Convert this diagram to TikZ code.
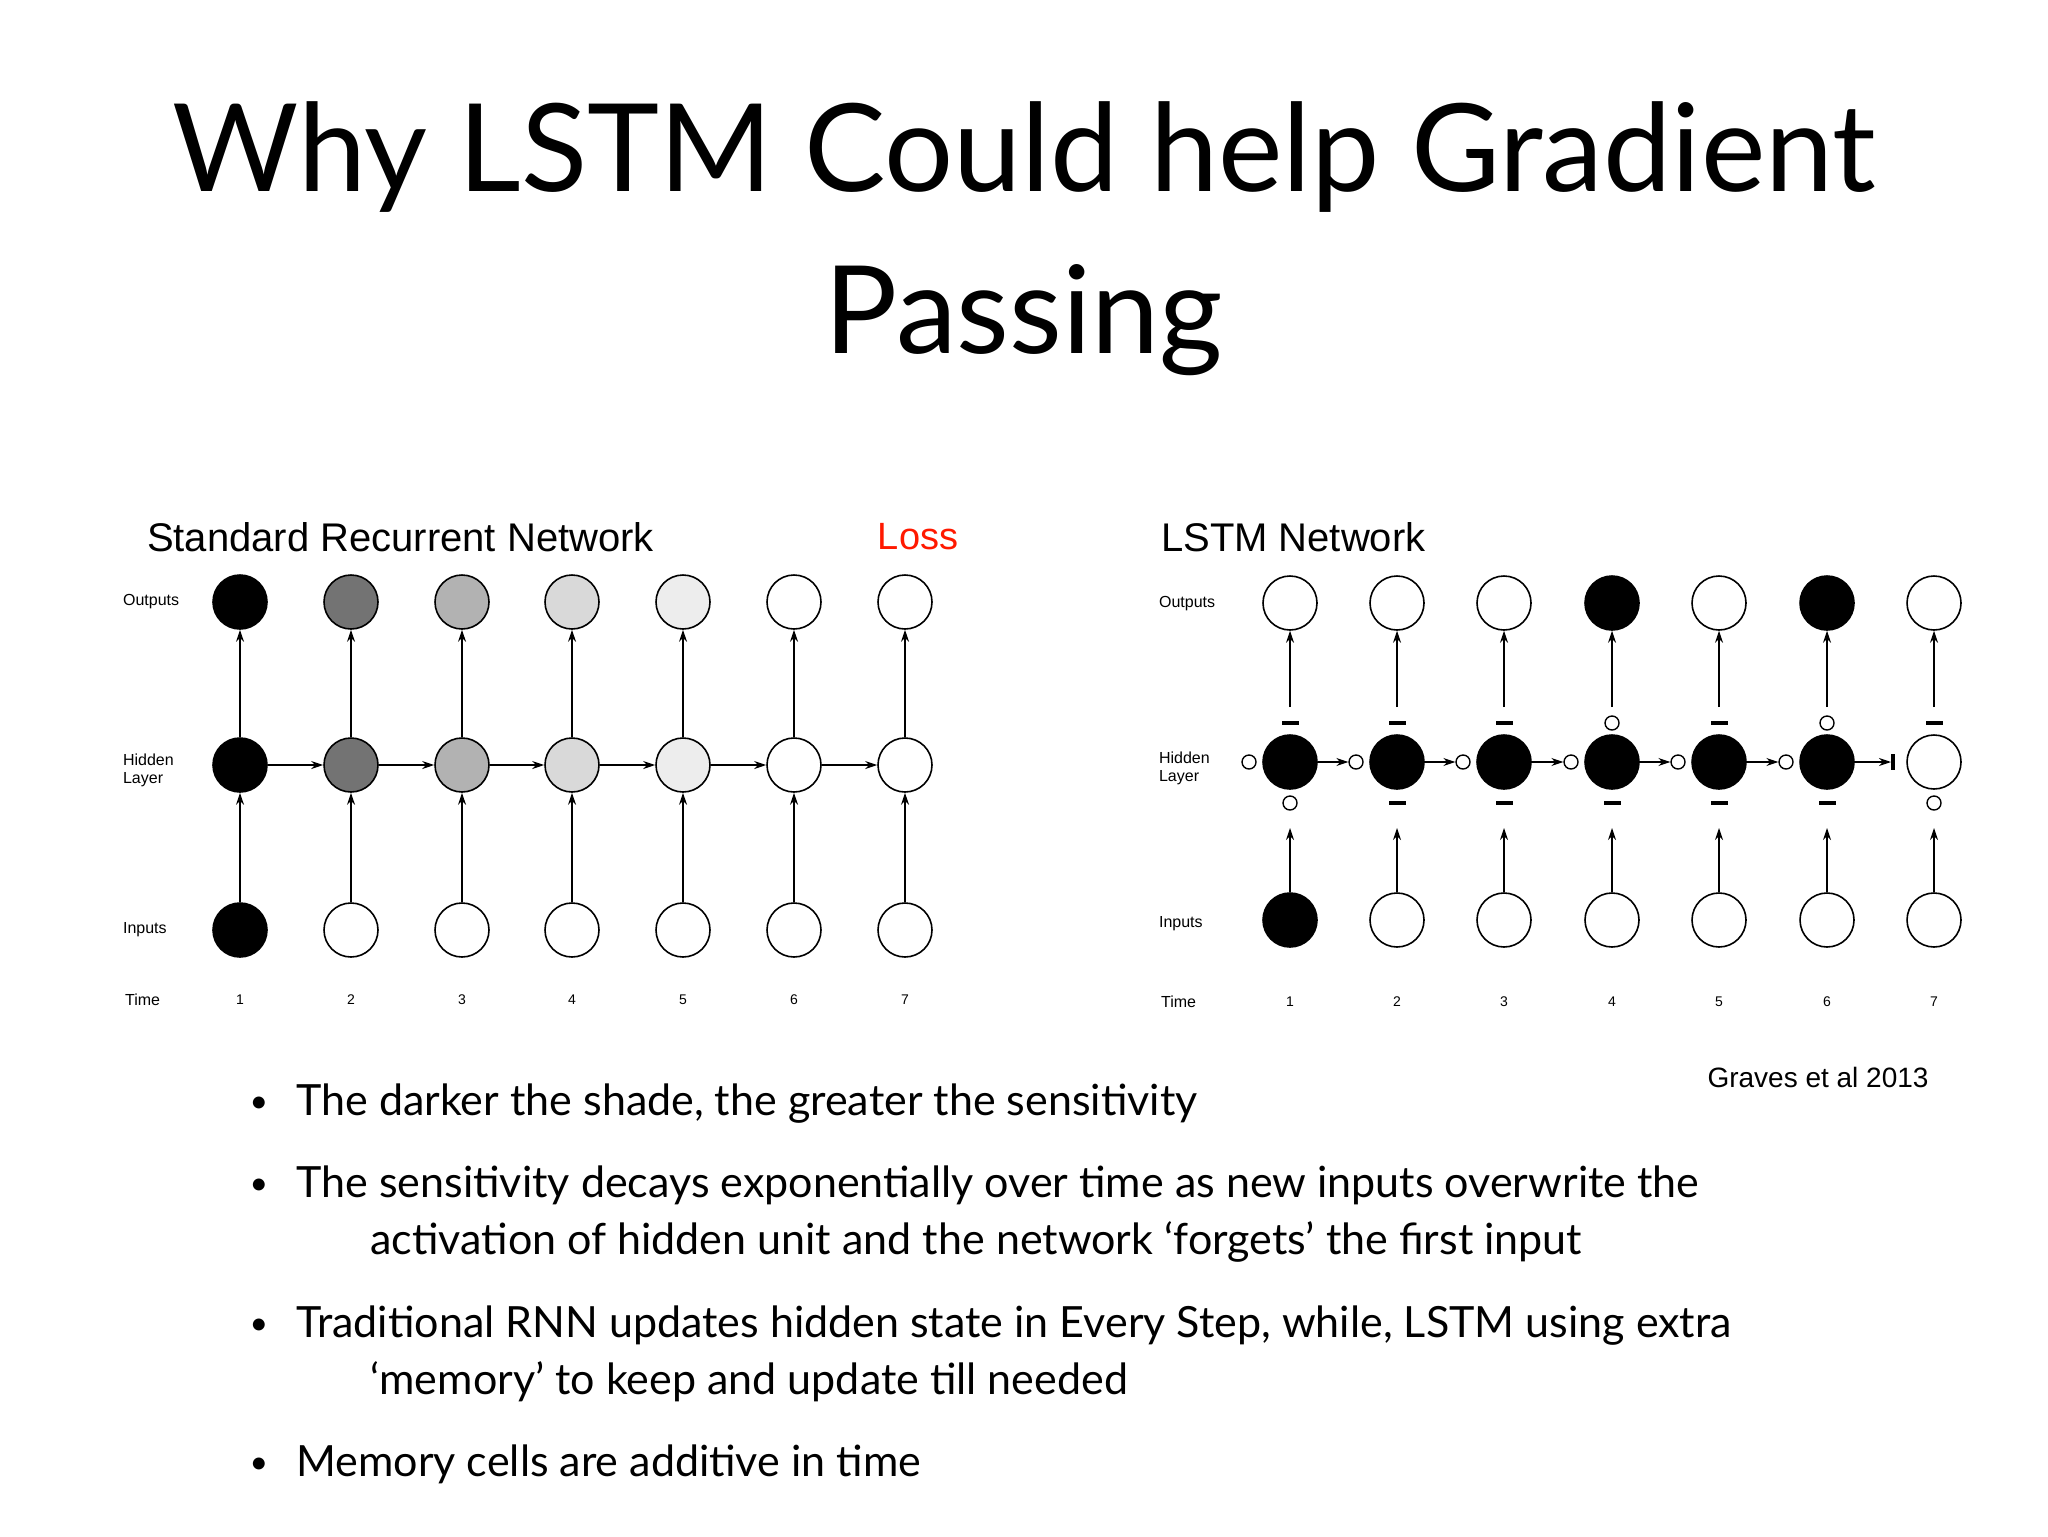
\documentclass[tikz,border=0pt]{standalone}
\usepackage{fontspec}
\setmainfont{Lato}
\newfontfamily\hel{Liberation Sans}
\usetikzlibrary{arrows.meta,calc}
\begin{document}
\begin{tikzpicture}[x=0.5pt,y=-0.5pt,
  unit/.style={circle,draw=black,line width=0.8pt,minimum size=27pt,inner sep=0pt},
  gatec/.style={circle,draw=black,line width=0.7pt,minimum size=7pt,inner sep=0pt},
  gated/.style={draw=none,fill=black,minimum width=8.5pt,minimum height=1.6pt,inner sep=0pt},
  gatev/.style={draw=none,fill=black,minimum width=1.6pt,minimum height=8pt,inner sep=0pt},
  con/.style={-{Stealth[length=6pt,width=4pt]},line width=0.6pt},
  lab/.style={font=\hel\fontsize{8}{9}\selectfont,anchor=west,align=left},
  tlab/.style={font=\hel\fontsize{7}{8}\selectfont},
  bul/.style={font=\fontsize{21.5}{25}\selectfont,anchor=base west,inner sep=0pt}]
\useasboundingbox (0,0) rectangle (2048,1536);
\clip (0,0) rectangle (2048,1536);
\fill[white] (0,0) rectangle (2048,1536);
% title
\node[font=\fontsize{61}{72}\selectfont] (t1) at (1024,157) {Why LSTM Could help Gradient};
\node[font=\fontsize{61}{72}\selectfont] (t2) at (1024,320) {Passing};
% left diagram
\node[font=\hel\fontsize{20}{24}\selectfont,anchor=west] (lt) at (140,537) {Standard Recurrent Network};
\node[font=\hel\fontsize{19}{22}\selectfont,text=red!80!orange] (loss) at (918,537) {Loss};
\node[lab] (lo) at (116,602) {Outputs};
\node[lab] (lh) at (116,770) {Hidden\\Layer};
\node[lab] (li) at (116,930) {Inputs};
\node[lab] (ltm) at (118,1000) {Time};
\foreach \i/\x/\s in {1/240/100,2/351/55,3/462/30,4/572/15,5/683/7,6/794/0,7/905/0}{
  \node[unit,fill=black!\s] (o\i) at (\x,602) {};
  \node[unit,fill=black!\s] (h\i) at (\x,765) {};
  \node[tlab] (tm\i) at (\x,1000) {\i};
  \draw[con] (h\i) -- (o\i);
}
\node[unit,fill=black] (n1) at (240,930) {};
\foreach \i/\x in {2/351,3/462,4/572,5/683,6/794,7/905}{\node[unit,fill=white] (n\i) at (\x,930) {};}
\foreach \i in {1,...,7}{\draw[con] (n\i) -- (h\i);}
\foreach \i/\j in {1/2,2/3,3/4,4/5,5/6,6/7}{\draw[con] (h\i) -- (h\j);}
% right diagram
\node[font=\hel\fontsize{20}{24}\selectfont,anchor=west] (rt) at (1154,537) {LSTM Network};
\node[lab] (ro) at (1152,604) {Outputs};
\node[lab] (rh) at (1152,768) {Hidden\\Layer};
\node[lab] (ri) at (1152,924) {Inputs};
\node[lab] (rtm) at (1154,1002) {Time};
\foreach \i/\x/\o/\h/\n in {1/1290/0/100/100,2/1397/0/100/0,3/1504/0/100/0,4/1612/100/100/0,5/1719/0/100/0,6/1827/100/100/0,7/1934/0/0/0}{
  \node[unit,fill=black!\o] (p\i) at (\x,603) {};
  \node[unit,fill=black!\h] (q\i) at (\x,762) {};
  \node[unit,fill=black!\n] (r\i) at (\x,920) {};
  \node[tlab] (rtm\i) at (\x,1002) {\i};
  \coordinate (qa\i) at (\x,707);
  \coordinate (qb\i) at (\x,828);
  \draw[con] (qa\i) -- (p\i);
  \draw[con] (r\i) -- (qb\i);
}
% gates above
\foreach \i in {1,2,3,5,7}{\node[gated] (ga\i) at ($(q\i)+(0,-39)$) {};}
\foreach \i in {4,6}{\node[gatec] (ga\i) at ($(q\i)+(0,-39)$) {};}
% gates below
\foreach \i in {1,7}{\node[gatec] (gb\i) at ($(q\i)+(0,41)$) {};}
\foreach \i in {2,...,6}{\node[gated] (gb\i) at ($(q\i)+(0,41)$) {};}
% gates left
\foreach \i in {1,...,6}{\node[gatec] (gl\i) at ($(q\i)+(-41,0)$) {};}
\node[gatev] (gl7) at ($(q7)+(-41,0)$) {};
\foreach \i/\j in {1/2,2/3,3/4,4/5,5/6,6/7}{\draw[con] (q\i) -- (gl\j);}
\node[font=\hel\fontsize{14}{17}\selectfont] (cite) at (1818,1077) {Graves et al 2013};
% bullets
\foreach \y/\n in {1115/a,1197/b,1337/c,1476/d}{\node[font=\fontsize{16}{20}\selectfont,anchor=base] (b\n) at (259,\y-3) {•};}
\node[bul] (x1) at (296,1115) {The darker the shade, the greater the sensitivity};
\node[bul] (x2) at (296,1197) {The sensitivity decays exponentially over time as new inputs overwrite the};
\node[bul] (x3) at (370,1254) {activation of hidden unit and the network ‘forgets’ the first input};
\node[bul] (x4) at (296,1337) {Traditional RNN updates hidden state in Every Step, while, LSTM using extra};
\node[bul] (x5) at (370,1394) {‘memory’ to keep and update till needed};
\node[bul] (x6) at (296,1476) {Memory cells are additive in time};
\end{tikzpicture}
\end{document}
